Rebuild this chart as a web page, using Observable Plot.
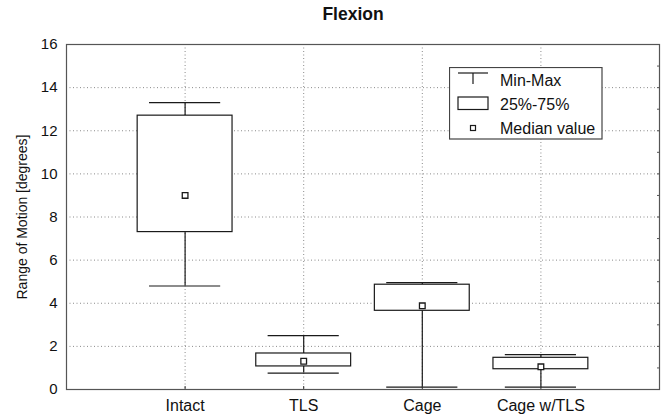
<!DOCTYPE html>
<html><head><meta charset="utf-8">
<script src="https://cdn.jsdelivr.net/npm/d3@7"></script>
<script src="https://cdn.jsdelivr.net/npm/@observablehq/plot@0.6"></script>
<style>
body{margin:0;background:#fff;font-family:"Liberation Sans",Arial,sans-serif;}
#wrap{position:relative;width:664px;height:414px;}
#legend{position:absolute;left:449px;top:67px;}
</style>
</head><body>
<div id="wrap"></div>
<script>
const categories = ["Intact", "TLS", "Cage", "Cage w/TLS"];
const minVals    = [4.8, 0.76, 0.11, 0.11];
const q1Vals     = [7.3, 1.07, 3.65, 0.94];
const medianVals = [9.0, 1.31, 3.88, 1.05];
const q3Vals     = [12.7, 1.67, 4.86, 1.47];
const maxVals    = [13.3, 2.5, 4.96, 1.62];
const yTicks = [0, 2, 4, 6, 8, 10, 12, 14, 16];
const yMinorTicks = [0,1,2,3,4,5,6,7,8,9,10,11,12,13,14,15,16];
const title = "Flexion";
const yLabel = "Range of Motion [degrees]";
const legendLabels = ["Min-Max", "25%-75%", "Median value"];

const positions = categories.map((c, i) => i + 1);
const data = categories.map((c, i) => ({
  cat: c, pos: i + 1,
  min: minVals[i], q1: q1Vals[i], median: medianVals[i], q3: q3Vals[i], max: maxVals[i]
}));

const boxHalf = 0.4, capHalf = 0.3;
const ink = "#1a1a1a";
const gridStyle = {stroke: "#8a8a8a", strokeOpacity: 1, strokeDasharray: "1,2.5", strokeWidth: 1};

const chart = Plot.plot({
  width: 664,
  height: 414,
  marginLeft: 66,
  marginRight: 5,
  marginTop: 44,
  marginBottom: 25,
  style: {fontFamily: "'Liberation Sans', Arial, sans-serif", color: "#111", background: "#fff"},
  x: {type: "linear", domain: [0, 5]},
  y: {domain: [0, 16]},
  marks: [
    Plot.gridY(yTicks.slice(1, -1), gridStyle),
    Plot.gridX(positions, gridStyle),
    Plot.ruleX(data, {x: "pos", y1: "min", y2: "q1", stroke: ink, strokeWidth: 1.2}),
    Plot.ruleX(data, {x: "pos", y1: "q3", y2: "max", stroke: ink, strokeWidth: 1.2}),
    Plot.ruleY(data, {y: "min", x1: d => d.pos - capHalf, x2: d => d.pos + capHalf, stroke: ink, strokeWidth: 1.2}),
    Plot.ruleY(data, {y: "max", x1: d => d.pos - capHalf, x2: d => d.pos + capHalf, stroke: ink, strokeWidth: 1.2}),
    Plot.rect(data, {x1: d => d.pos - boxHalf, x2: d => d.pos + boxHalf, y1: "q1", y2: "q3", fill: "white", stroke: ink, strokeWidth: 1.2}),
    Plot.dot(data, {x: "pos", y: "median", symbol: "square", r: 3.2, fill: "white", stroke: ink, strokeWidth: 1.3}),
    Plot.frame({stroke: "#555", strokeWidth: 1.2}),
    Plot.axisY(yTicks, {tickSize: 0, tickPadding: 9, fontSize: 15, label: null}),
    Plot.axisY(yMinorTicks, {anchor: "right", tickSize: -3, tickFormat: () => "", label: null, stroke: "#555"}),
    Plot.axisX(positions, {tickSize: 0, tickPadding: 10, fontSize: 16, tickFormat: p => categories[p - 1], label: null}),
    Plot.axisX(positions, {anchor: "bottom", tickSize: -3, tickFormat: () => "", label: null, stroke: "#333"}),
    Plot.text([yLabel], {frameAnchor: "left", rotate: -90, dx: -44, textAnchor: "middle", lineAnchor: "middle", fontSize: 14, fill: "#111"}),
    Plot.text([title], {frameAnchor: "top", dx: -10, dy: -30, textAnchor: "middle", lineAnchor: "middle", fontSize: 17.5, fontWeight: "bold", fill: "#111"})
  ]
});

const wrap = document.getElementById("wrap");
wrap.appendChild(chart);

// Legend (overlay, built from legendLabels)
const lw = 154, lh = 73;
const leg = d3.create("svg").attr("id", "legend").attr("width", lw).attr("height", lh)
  .style("font-family", "'Liberation Sans', Arial, sans-serif");
leg.append("rect").attr("x", 0.5).attr("y", 0.5).attr("width", lw - 1.5).attr("height", lh - 1.5)
  .attr("fill", "white").attr("stroke", "#444").attr("stroke-width", 1.2);
const rowY = [13, 37, 61];
// Min-Max symbol
leg.append("line").attr("x1", 9).attr("x2", 39).attr("y1", rowY[0] - 7).attr("y2", rowY[0] - 7).attr("stroke", ink).attr("stroke-width", 1.2);
leg.append("line").attr("x1", 24).attr("x2", 24).attr("y1", rowY[0] - 7).attr("y2", rowY[0] + 4).attr("stroke", ink).attr("stroke-width", 1.2);
// box symbol
leg.append("rect").attr("x", 9).attr("y", rowY[1] - 7).attr("width", 30).attr("height", 12.5).attr("fill", "white").attr("stroke", ink).attr("stroke-width", 1.2);
// median symbol
leg.append("rect").attr("x", 21.5).attr("y", rowY[2] - 2.5).attr("width", 5).attr("height", 5).attr("fill", "white").attr("stroke", ink).attr("stroke-width", 1.2);
legendLabels.forEach((t, i) => {
  leg.append("text").attr("x", 51).attr("y", rowY[i]).attr("dy", "0.35em")
    .attr("font-size", 16).attr("fill", "#111").text(t);
});
wrap.appendChild(leg.node());
</script>
</body></html>
